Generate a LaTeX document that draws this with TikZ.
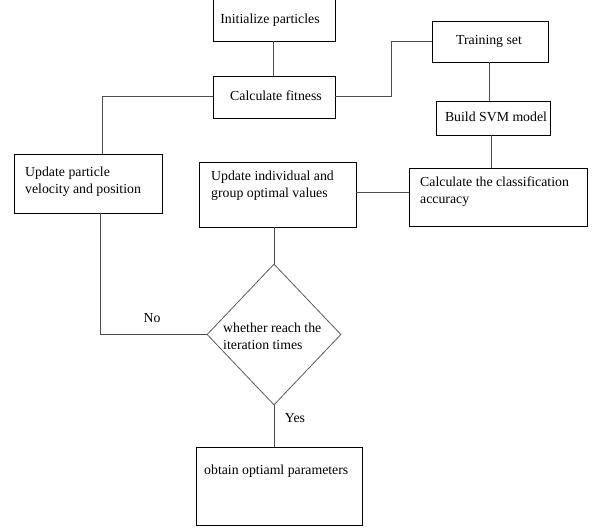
\documentclass[tikz,border=0pt]{standalone}
\usepackage{fontspec}
\setmainfont{Liberation Serif}
\usetikzlibrary{shapes.geometric,calc}
\begin{document}
\begin{tikzpicture}[x=1pt,y=-1pt,
  box/.style={draw=black,line width=0.8pt,rectangle,inner sep=0pt},
  dia/.style={draw=black!65,line width=0.8pt,diamond,inner sep=0pt,minimum width=134pt,minimum height=141pt},
  txt/.style={inner sep=0pt,align=left,font=\fontsize{13.8}{17}\selectfont},
  conn/.style={draw=black!70,line width=1pt}]
\useasboundingbox (0,0) rectangle (593,529);
% boxes
\node[box,minimum width=122pt,minimum height=42pt] (init) at (274,20) {};
\node[box,minimum width=122pt,minimum height=42pt] (calc) at (274,97) {};
\node[box,minimum width=116pt,minimum height=41pt] (train) at (490,41.5) {};
\node[box,minimum width=114pt,minimum height=34pt] (svm) at (493,118) {};
\node[box,minimum width=148pt,minimum height=59pt] (upd) at (88,183.5) {};
\node[box,minimum width=157pt,minimum height=65pt] (ind) at (277.5,194.5) {};
\node[box,minimum width=178pt,minimum height=58pt] (cls) at (498,197) {};
\node[dia] (dec) at (274,334.5) {};
\node[box,minimum width=166pt,minimum height=78pt] (obt) at (279,486) {};
% texts
\node[txt] (tinit) at (270,20) {Initialize particles};
\node[txt] (tcalc) at (276,96) {Calculate fitness};
\node[txt] (ttrain) at (489,41) {Training set};
\node[txt] (tsvm) at (496,117) {Build SVM model};
\node[txt,anchor=west] (tupd) at (25,181.5) {Update particle\\velocity and position};
\node[txt,anchor=west] (tind) at (211,186) {Update individual and\\group optimal values};
\node[txt,anchor=west] (tcls) at (420,191.5) {Calculate the classification\\accuracy};
\node[txt,anchor=west] (tdec) at (223,336) {whether reach the\\iteration times};
\node[txt,anchor=west] (tobt) at (204,471) {obtain optiaml parameters};
\node[txt] (tno) at (152,318) {No};
\node[txt] (tyes) at (295,418) {Yes};
% connectors
\draw[conn] ([xshift=-1pt]init.south) -- ([xshift=-1pt]init.south |- calc.north);
\draw[conn] (calc.west) -| ([xshift=89pt]upd.north west);
\draw[conn] (calc.east) -- ++(56,0) |- (train.west);
\draw[conn] ([xshift=-1pt]train.south) -- ([xshift=-1pt]train.south |- svm.north);
\draw[conn] ([xshift=-2pt]svm.south) -- ([xshift=-2pt]svm.south |- cls.north);
\draw[conn] ([yshift=1.5pt]ind.east) -- ([yshift=1.5pt]ind.east -| cls.west);
\draw[conn] (dec.north) -- (dec.north |- ind.south);
\draw[conn] ([xshift=87pt]upd.south west) |- (dec.west);
\draw[conn] (dec.south) -- (dec.south |- obt.north);
\end{tikzpicture}
\end{document}
